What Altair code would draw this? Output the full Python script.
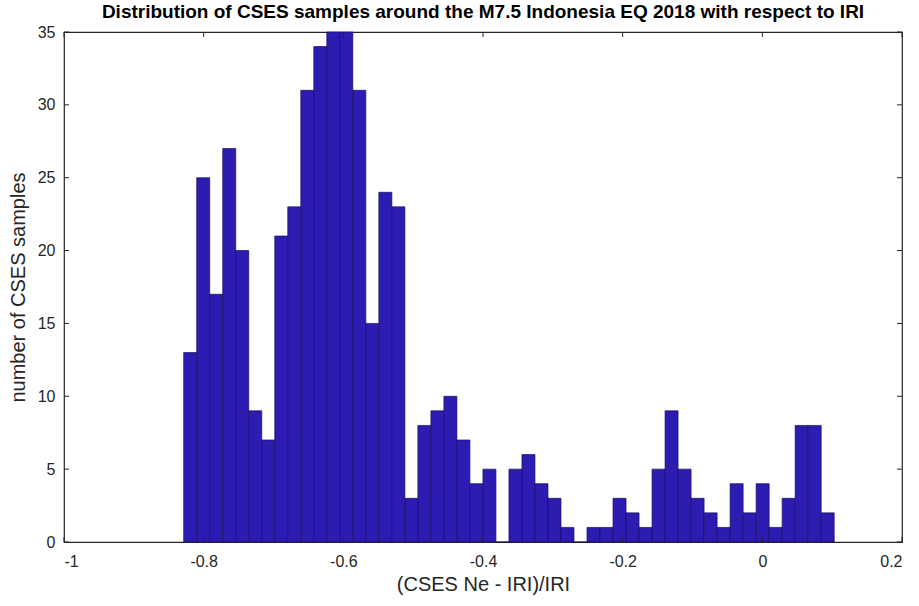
import altair as alt
import numpy as np
import pandas as pd

# histogram counts (50 equal-width bins)
counts = [13, 25, 17, 27, 20, 9, 7, 21, 23, 31,
          34, 35, 35, 31, 15, 24, 23, 3, 8, 9,
          10, 7, 4, 5, 0, 5, 6, 4, 3, 1,
          0, 1, 1, 3, 2, 1, 5, 9, 5, 3,
          2, 1, 4, 2, 4, 1, 3, 8, 8, 2]
bin_start = -0.8286
bin_width = 0.01863
x_ticks = [-1, -0.8, -0.6, -0.4, -0.2, 0, 0.2]
y_ticks = [0, 5, 10, 15, 20, 25, 30, 35]

W, H = 838, 510
FONT = "Liberation Sans"
AX = "#262626"

lo = bin_start + bin_width * np.arange(len(counts))
bars_df = pd.DataFrame({"lo": lo, "hi": lo + bin_width, "count": counts})
xt_df = pd.DataFrame({"v": x_ticks})
yt_df = pd.DataFrame({"v": y_ticks})

xscale = alt.Scale(domain=[-1, 0.2], nice=False, zero=False)
yscale = alt.Scale(domain=[0, 35], nice=False)

bars = alt.Chart(bars_df).mark_bar(
    color="#2D1CB2", stroke="#17105E", strokeWidth=0.7, opacity=1
).encode(
    x=alt.X("lo:Q", scale=xscale,
            axis=alt.Axis(values=x_ticks, title="(CSES Ne - IRI)/IRI",
                          labelExpr="'' + datum.value", ticks=False,
                          domain=False, grid=False, labelPadding=11,
                          titlePadding=5)),
    x2="hi:Q",
    y=alt.Y("count:Q", scale=yscale,
            axis=alt.Axis(values=y_ticks, title="number of CSES samples",
                          ticks=False, domain=False, grid=False,
                          labelPadding=9, titlePadding=9)),
    y2=alt.datum(0),
)

tick_len = 5
xt_bottom = alt.Chart(xt_df).mark_rule(color=AX, strokeWidth=1).encode(
    x=alt.X("v:Q", scale=xscale), y=alt.value(H), y2=alt.value(H - tick_len))
xt_top = alt.Chart(xt_df).mark_rule(color=AX, strokeWidth=1).encode(
    x=alt.X("v:Q", scale=xscale), y=alt.value(0), y2=alt.value(tick_len))
yt_left = alt.Chart(yt_df).mark_rule(color=AX, strokeWidth=1).encode(
    y=alt.Y("v:Q", scale=yscale), x=alt.value(0), x2=alt.value(tick_len))
yt_right = alt.Chart(yt_df).mark_rule(color=AX, strokeWidth=1).encode(
    y=alt.Y("v:Q", scale=yscale), x=alt.value(W), x2=alt.value(W - tick_len))

chart = alt.layer(bars, xt_bottom, xt_top, yt_left, yt_right).properties(
    width=W, height=H,
    title=alt.Title("Distribution of CSES samples around the M7.5 Indonesia EQ 2018 with respect to IRI",
                    font=FONT, fontSize=19, fontWeight="bold", color="#000000",
                    anchor="middle", offset=2),
    autosize=alt.AutoSizeParams(type="none"),
    padding={"left": 64, "top": 32, "right": 17, "bottom": 64},
).configure(
    background="white"
).configure_view(
    stroke=AX, strokeWidth=1.2, fill="white"
).configure_axis(
    labelFont=FONT, labelFontSize=16, labelColor=AX,
    titleFont=FONT, titleFontSize=20, titleColor=AX, titleFontWeight="normal",
)

chart.save("out.html", embed_options={"renderer": "svg", "actions": False})
